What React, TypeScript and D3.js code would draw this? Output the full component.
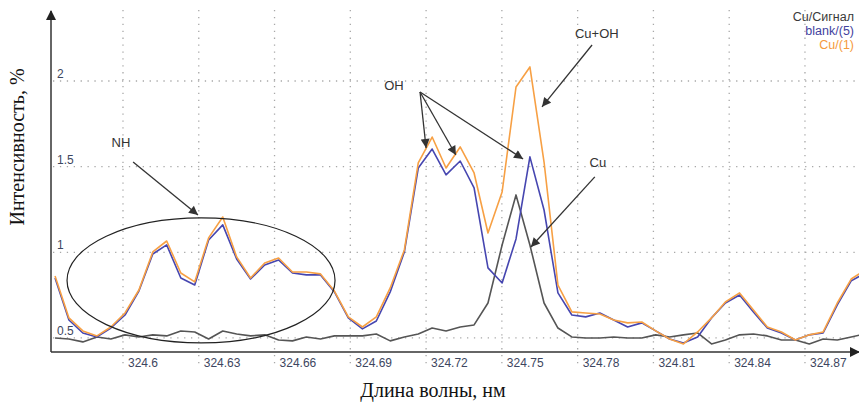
import React from "react";
import * as d3 from "d3";

const WAVELENGTHS = [
  324.5731, 324.5786, 324.5841, 324.5897, 324.5952, 324.6008, 324.6063, 324.6118, 324.6173, 324.6229,
  324.6284, 324.6339, 324.6395, 324.645, 324.6505, 324.6561, 324.6616, 324.6671, 324.6726, 324.6782,
  324.6837, 324.6892, 324.6948, 324.7003, 324.7058, 324.7114, 324.7169, 324.7224, 324.7279, 324.7335,
  324.739, 324.7445, 324.7501, 324.7556, 324.7611, 324.7667, 324.7722, 324.7777, 324.7832, 324.7888,
  324.7943, 324.7998, 324.8054, 324.8109, 324.8164, 324.8219, 324.8275, 324.833, 324.8385, 324.8441,
  324.8496, 324.8551, 324.8607, 324.8662, 324.8717, 324.8772, 324.8828, 324.8883, 324.8938,
];

const CU_SIGNAL = [
  0.5, 0.494, 0.477, 0.506, 0.494, 0.518, 0.506, 0.518, 0.512, 0.541,
  0.535, 0.494, 0.541, 0.523, 0.512, 0.518, 0.488, 0.483, 0.506, 0.494,
  0.512, 0.512, 0.512, 0.523, 0.483, 0.506, 0.523, 0.558, 0.541, 0.564,
  0.576, 0.704, 1.043, 1.335, 1.043, 0.704, 0.558, 0.506, 0.5, 0.5,
  0.506, 0.5, 0.5, 0.518, 0.506, 0.518, 0.529, 0.465, 0.488, 0.518,
  0.523, 0.512, 0.488, 0.488, 0.465, 0.494, 0.488, 0.506, 0.523,
];

const BLANK_5 = [
  0.85, 0.605, 0.529, 0.506, 0.558, 0.634, 0.774, 0.99, 1.043, 0.85,
  0.809, 1.072, 1.16, 0.961, 0.844, 0.926, 0.955, 0.879, 0.868, 0.868,
  0.769, 0.617, 0.553, 0.599, 0.769, 1.002, 1.492, 1.603, 1.452, 1.533,
  1.376, 0.909, 0.821, 1.078, 1.557, 1.247, 0.763, 0.634, 0.623, 0.646,
  0.605, 0.564, 0.588, 0.541, 0.494, 0.471, 0.506, 0.617, 0.704, 0.751,
  0.652, 0.558, 0.529, 0.488, 0.518, 0.529, 0.693, 0.833, 0.879,
];

const CU_1 = [
  0.862, 0.617, 0.541, 0.512, 0.564, 0.646, 0.78, 1.002, 1.066, 0.879,
  0.827, 1.084, 1.206, 0.973, 0.85, 0.938, 0.967, 0.885, 0.885, 0.874,
  0.774, 0.623, 0.564, 0.623, 0.792, 1.014, 1.522, 1.673, 1.492, 1.615,
  1.463, 1.113, 1.352, 1.965, 2.082, 1.527, 0.809, 0.652, 0.646, 0.64,
  0.605, 0.588, 0.593, 0.541, 0.494, 0.465, 0.535, 0.617, 0.71, 0.763,
  0.663, 0.564, 0.535, 0.488, 0.518, 0.535, 0.704, 0.844, 0.897,
];

const X_TICKS = [324.6, 324.63, 324.66, 324.69, 324.72, 324.75, 324.78, 324.81, 324.84, 324.87];
const X_TICK_LABELS = ["324.6", "324.63", "324.66", "324.69", "324.72", "324.75", "324.78", "324.81", "324.84", "324.87"];
const Y_TICKS = [0.5, 1, 1.5, 2];
const Y_TICK_LABELS = ["0.5", "1", "1.5", "2"];

const SERIES_NAMES = ["Cu/Сигнал", "blank/(5)", "Cu/(1)"];
const SERIES_COLORS = ["#555555", "#4646b0", "#f7a044"];
const LEGEND_COLORS = ["#3a3a3a", "#42429e", "#f59a3c"];

// annotations in data units (wavelength, intensity)
const NH_LABEL = { text: "NH", wl: 324.5992, v: 1.644 };
const NH_ARROWS = [{ from: [324.604, 1.527], to: [324.6297, 1.218] }];
const NH_ELLIPSE = { wl: 324.6309, v: 0.836, rwl: 0.05305, rv: 0.365 };
const OH_LABEL = { text: "OH", wl: 324.7073, v: 1.977 };
const OH_ARROWS = [
  { from: [324.7176, 1.936], to: [324.72, 1.609] },
  { from: [324.7176, 1.936], to: [324.7318, 1.568] },
  { from: [324.7176, 1.936], to: [324.7584, 1.545] },
];
const CUOH_LABEL = { text: "Cu+OH", wl: 324.7876, v: 2.28 };
const CUOH_ARROWS = [{ from: [324.7857, 2.21], to: [324.7659, 1.849] }];
const CU_LABEL = { text: "Cu", wl: 324.788, v: 1.527 };
const CU_ARROWS = [{ from: [324.7868, 1.44], to: [324.7615, 1.031] }];

const W = 859;
const H = 404;
const LEFT = 51;
const RIGHT = 857;
const TOP = 13;
const BOTTOM = 352;

export default function App() {
  const x = d3.scaleLinear().domain([324.5715, 324.8906]).range([LEFT, RIGHT]);
  const y = d3.scaleLinear().domain([0.418, 2.397]).range([BOTTOM, TOP]);

  const line = d3
    .line<number>()
    .x((_, i) => x(WAVELENGTHS[i]))
    .y((d) => y(d));

  const seriesData = [CU_SIGNAL, BLANK_5, CU_1];
  const sans = "'Liberation Sans', Arial, sans-serif";
  const serif = "'Liberation Serif', 'Times New Roman', serif";
  const tickColor = "#3d4660";
  const annColor = "#333333";

  const allArrows = [...NH_ARROWS, ...OH_ARROWS, ...CUOH_ARROWS, ...CU_ARROWS];
  const labels = [NH_LABEL, OH_LABEL, CUOH_LABEL, CU_LABEL];

  return (
    <svg
      width={W}
      height={H}
      style={{ position: "absolute", left: 0, top: 0, background: "#fff" }}
    >
      <defs>
        <clipPath id="plot">
          <rect x={LEFT} y={0} width={W - LEFT} height={BOTTOM} />
        </clipPath>
        <marker
          id="ah"
          viewBox="0 0 10 10"
          refX={10}
          refY={5}
          markerWidth={11}
          markerHeight={9}
          markerUnits="userSpaceOnUse"
          orient="auto"
        >
          <path d="M0,0 L10,5 L0,10 z" fill={annColor} />
        </marker>
        <marker
          id="axh"
          viewBox="0 0 10 10"
          refX={9}
          refY={5}
          markerWidth={10}
          markerHeight={10}
          markerUnits="userSpaceOnUse"
          orient="auto"
        >
          <path d="M0,0 L10,5 L0,10 z" fill="#222" />
        </marker>
      </defs>

      {/* grid */}
      <g stroke="#a8a8a8" strokeWidth={1.3} strokeDasharray="1.3,5.6">
        {Y_TICKS.map((t) => (
          <line key={"h" + t} x1={LEFT + 2} x2={RIGHT} y1={y(t)} y2={y(t)} />
        ))}
        {X_TICKS.map((t) => (
          <line key={"v" + t} x1={x(t)} x2={x(t)} y1={10} y2={368} />
        ))}
      </g>

      {/* tick labels */}
      <g fontFamily={sans} fontSize={12} fill={tickColor}>
        {Y_TICKS.map((t, i) => (
          <text key={"yl" + t} x={LEFT + 6} y={y(t) - 3}>
            {Y_TICK_LABELS[i]}
          </text>
        ))}
        {X_TICKS.map((t, i) => (
          <text key={"xl" + t} x={x(t) + 5} y={367}>
            {X_TICK_LABELS[i]}
          </text>
        ))}
      </g>

      {/* series */}
      <g clipPath="url(#plot)" fill="none" strokeLinejoin="round">
        {seriesData.map((s, k) => (
          <path key={k} d={line(s) || ""} stroke={SERIES_COLORS[k]} strokeWidth={1.6} />
        ))}
      </g>

      {/* axes */}
      <line x1={LEFT} y1={BOTTOM} x2={RIGHT + 2} y2={BOTTOM} stroke="#333" strokeWidth={1.5} markerEnd="url(#axh)" />
      <line x1={LEFT} y1={BOTTOM} x2={LEFT} y2={TOP - 2} stroke="#333" strokeWidth={1.5} markerEnd="url(#axh)" />

      {/* annotations */}
      <ellipse
        cx={x(NH_ELLIPSE.wl)}
        cy={y(NH_ELLIPSE.v)}
        rx={x(NH_ELLIPSE.wl + NH_ELLIPSE.rwl) - x(NH_ELLIPSE.wl)}
        ry={y(NH_ELLIPSE.v) - y(NH_ELLIPSE.v + NH_ELLIPSE.rv)}
        fill="none"
        stroke="#222"
        strokeWidth={1.2}
      />
      <g stroke={annColor} strokeWidth={1.3}>
        {allArrows.map((a, i) => (
          <line
            key={"a" + i}
            x1={x(a.from[0])}
            y1={y(a.from[1])}
            x2={x(a.to[0])}
            y2={y(a.to[1])}
            markerEnd="url(#ah)"
          />
        ))}
      </g>
      <g fontFamily={sans} fontSize={13} fill={annColor} textAnchor="middle">
        {labels.map((l) => (
          <text key={l.text} x={x(l.wl)} y={y(l.v) + 5}>
            {l.text}
          </text>
        ))}
      </g>

      {/* legend */}
      <g fontFamily={sans} fontSize={12.5} textAnchor="end">
        {SERIES_NAMES.map((n, i) => (
          <text key={n} x={854} y={21 + i * 14} fill={LEGEND_COLORS[i]}>
            {n}
          </text>
        ))}
      </g>

      {/* axis titles */}
      <text
        transform={`translate(24,147) rotate(-90)`}
        textAnchor="middle"
        fontFamily={serif}
        fontSize={20}
        fill="#111"
      >
        Интенсивность, %
      </text>
      <text x={433} y={397} textAnchor="middle" fontFamily={serif} fontSize={20} fill="#111">
        Длина волны, нм
      </text>
    </svg>
  );
}
